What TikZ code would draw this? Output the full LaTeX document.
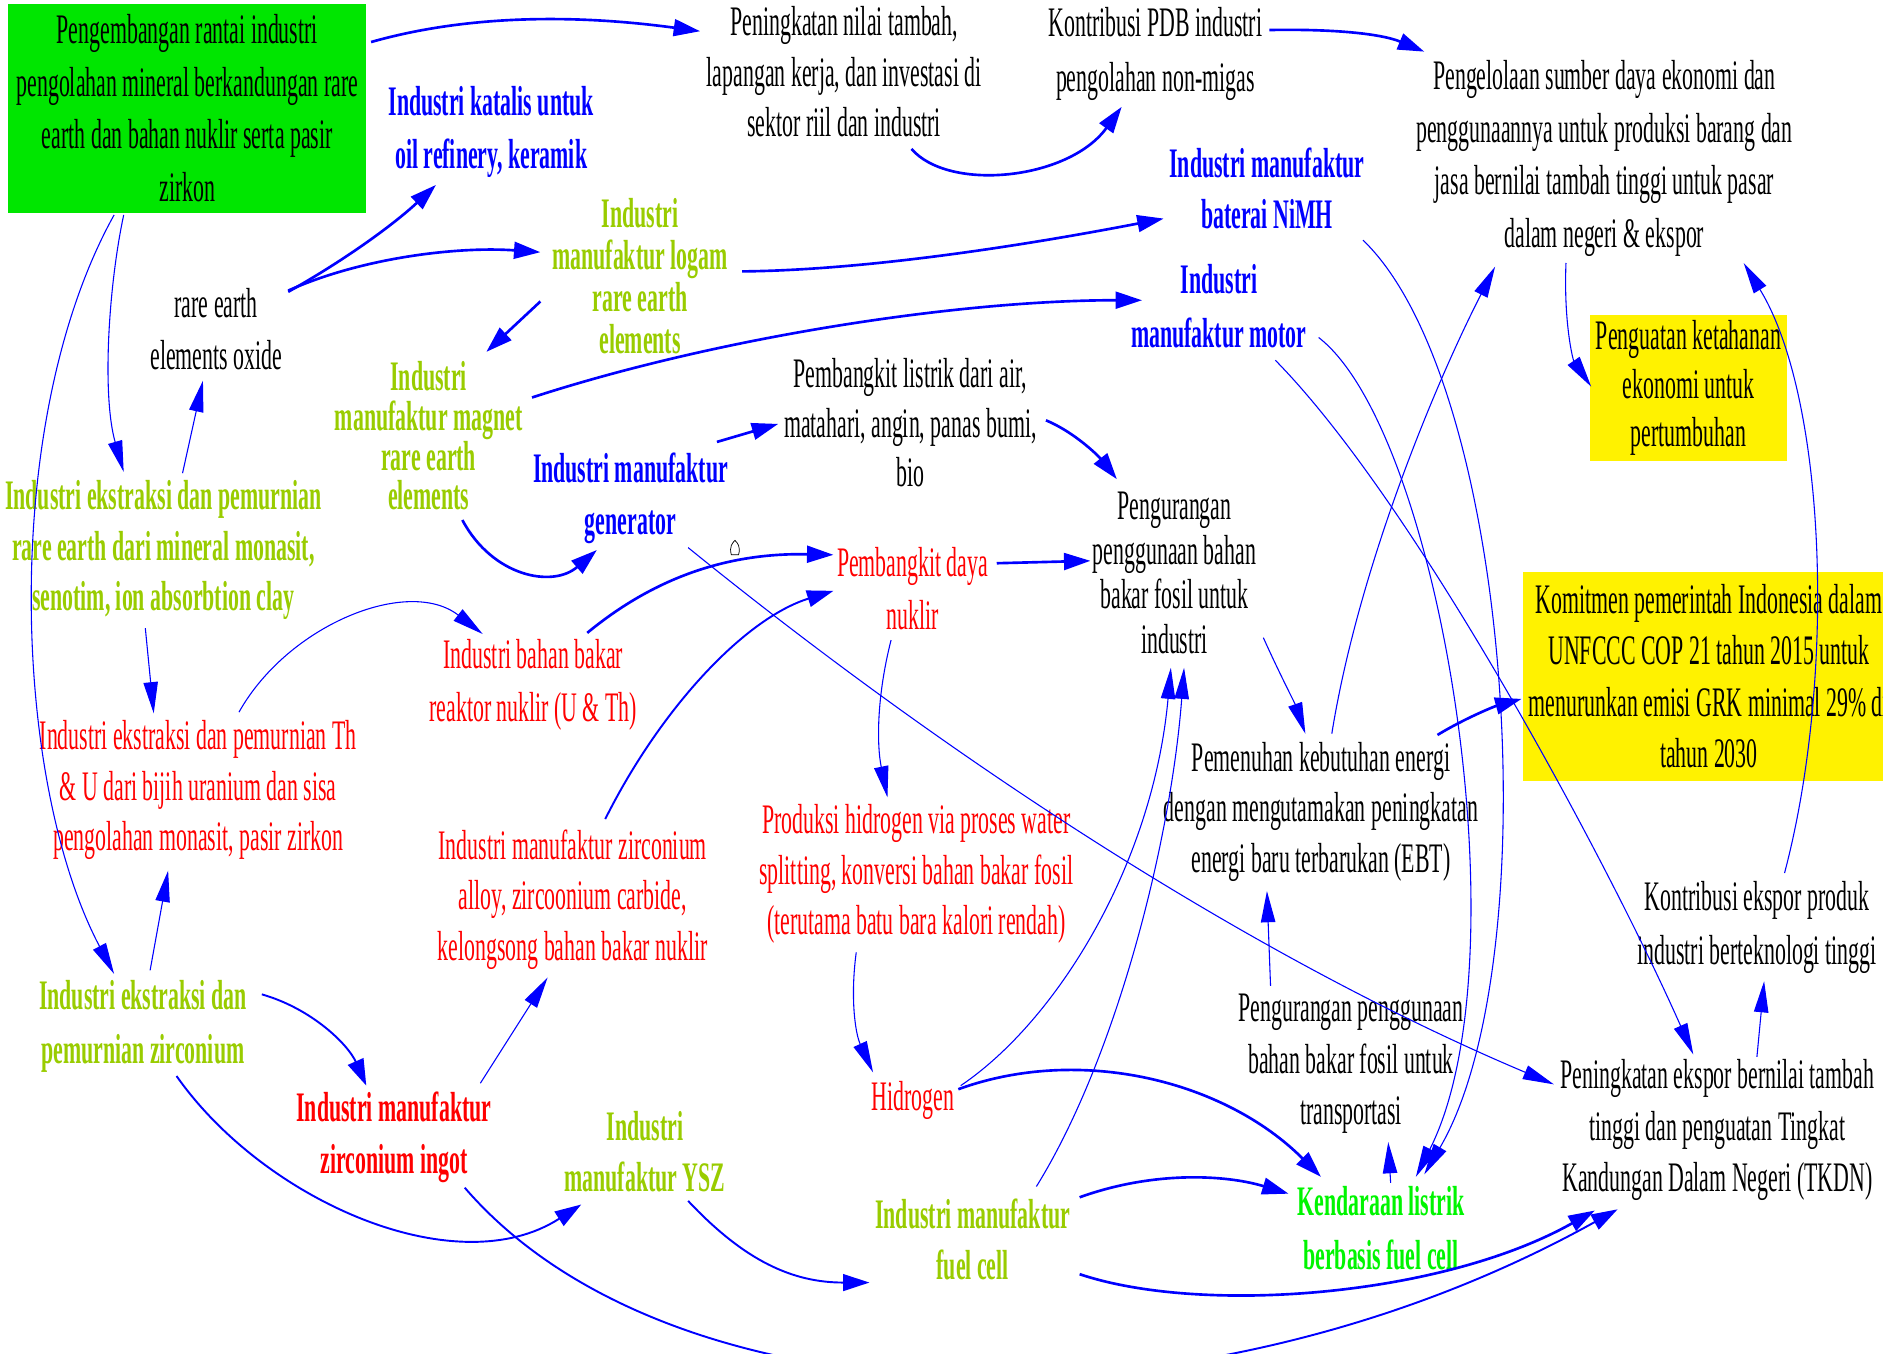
\documentclass[tikz,border=0pt]{standalone}
\usepackage{fontspec}
\setmainfont{Liberation Serif}[FakeStretch=0.52]
\usetikzlibrary{arrows.meta}
\definecolor{olv}{RGB}{153,204,0}
\definecolor{gbox}{RGB}{0,230,0}
\definecolor{kgreen}{RGB}{0,245,0}
\definecolor{ablue}{RGB}{0,0,255}
\newcommand\fsz[1]{\fontsize{35}{#1}\selectfont}
\tikzset{
  bk/.style={align=center,inner sep=0pt,text=black,font=\fsz{#1}}, bk/.default=43,
  bl/.style={align=center,inner sep=0pt,text=ablue,font=\fsz{#1}\bfseries}, bl/.default=44,
  ol/.style={align=center,inner sep=0pt,text=olv,font=\fsz{#1}\bfseries}, ol/.default=44,
  rd/.style={align=center,inner sep=0pt,text=red,font=\fsz{#1}}, rd/.default=43,
  rdb/.style={align=center,inner sep=0pt,text=red,font=\fsz{#1}\bfseries}, rdb/.default=43,
  grb/.style={align=center,inner sep=0pt,text=kgreen,font=\fsz{#1}\bfseries}, grb/.default=45,
  tk/.style={draw=ablue,line width=2.2pt,-{Triangle[length=22pt,width=14pt]}},
  tn/.style={draw=ablue,line width=0.9pt,-{Triangle[length=26pt,width=12pt]}},
}
\begin{document}
\begin{tikzpicture}[x=1pt,y=-1pt]
\useasboundingbox (0,0) rectangle (1568,1127);
\clip (0,0) rectangle (1568,1127);
% boxes
\node[fill=gbox,minimum width=298pt,minimum height=174pt,bk=44] (n1) at (156,90)
  {Pengembangan rantai industri\\pengolahan mineral berkandungan rare\\earth dan bahan nuklir serta pasir\\zirkon};
\node[fill=yellow,minimum width=164pt,minimum height=122pt,bk=40] (n13) at (1406,323)
  {Penguatan ketahanan\\ekonomi untuk\\pertumbuhan};
\node[fill=yellow,minimum width=310pt,minimum height=174pt,bk=43] (n18) at (1423,563)
  {Komitmen pemerintah Indonesia dalam\\UNFCCC COP 21 tahun 2015 untuk\\menurunkan emisi GRK minimal 29\% di\\tahun 2030};
% text nodes
\node[bk=42] (n2) at (703,60) {Peningkatan nilai tambah,\\lapangan kerja, dan investasi di\\sektor riil dan industri};
\node[bk=46] (n3) at (962,45) {Kontribusi PDB industri\\pengolahan non-migas};
\node[bk=44] (n4) at (1336,132) {Pengelolaan sumber daya ekonomi dan\\penggunaannya untuk produksi barang dan\\jasa bernilai tambah tinggi untuk pasar\\dalam negeri \& ekspor};
\node[bl=44] (n5) at (409,110) {Industri katalis untuk\\oil refinery, keramik};
\node[ol=35] (n6) at (533,230) {Industri\\manufaktur logam\\rare earth\\elements};
\node[bk=44] (n7) at (180,274) {rare earth\\elements oxide};
\node[ol=33] (n8) at (357,363) {Industri\\manufaktur magnet\\rare earth\\elements};
\node[bl=43] (n9) at (1055,157) {Industri manufaktur\\baterai NiMH};
\node[bl=45] (n10) at (1015,255) {Industri\\manufaktur motor};
\node[bk=41] (n11) at (758,352) {Pembangkit listrik dari air,\\matahari, angin, panas bumi,\\bio};
\node[bl=44] (n12) at (525,415) {Industri manufaktur\\generator};
\node[ol=42] (n14) at (136,458) {Industri ekstraksi dan pemurnian\\rare earth dari mineral monasit,\\senotim, ion absorbtion clay};
\node[bk=37] (n15) at (978,477) {Pengurangan\\penggunaan bahan\\bakar fosil untuk\\industri};
\node[rd=44] (n16) at (760,490) {Pembangkit daya\\nuklir};
\node[rd=44] (n17) at (444,570) {Industri bahan bakar\\reaktor nuklir (U \& Th)};
\node[rd=42] (n19) at (165,658) {Industri ekstraksi dan pemurnian Th\\\& U dari bijih uranium dan sisa\\pengolahan monasit, pasir zirkon};
\node[bk=42] (n20) at (1100,676) {Pemenuhan kebutuhan energi\\dengan mengutamakan peningkatan\\energi baru terbarukan (EBT)};
\node[rd=42] (n21) at (763,728) {Produksi hidrogen via proses water\\splitting, konversi bahan bakar fosil\\(terutama batu bara kalori rendah)};
\node[rd=42] (n22) at (477,749) {Industri manufaktur zirconium\\alloy, zircoonium carbide,\\kelongsong bahan bakar nuklir};
\node[bk=45] (n23) at (1463,772) {Kontribusi ekspor produk\\industri berteknologi tinggi};
\node[ol=45] (n24) at (119,855) {Industri ekstraksi dan\\pemurnian zirconium};
\node[bk=43] (n25) at (1125,886) {Pengurangan penggunaan\\bahan bakar fosil untuk\\transportasi};
\node[bk=43] (n26) at (1430,941) {Peningkatan ekspor bernilai tambah\\tinggi dan penguatan Tingkat\\Kandungan Dalam Negeri (TKDN)};
\node[rd] (n27) at (760,916) {Hidrogen};
\node[rdb=43] (n28) at (328,947) {Industri manufaktur\\zirconium ingot};
\node[ol=43] (n29) at (537,959) {Industri\\manufaktur YSZ};
\node[ol=42] (n30) at (810,1032) {Industri manufaktur\\fuel cell};
\node[grb=45] (n31) at (1150,1023) {Kendaraan listrik\\berbasis fuel cell};
% thick connectors
\draw[tk] ([shift={(153,-55)}]n1.center) .. controls (390,12) and (480,12) .. ([shift={(-120,-34)}]n2.center);
\draw[tk] ([shift={(56,64)}]n2.center) .. controls (790,160) and (890,150) .. ([shift={(-28,44)}]n3.center);
\draw[tk] ([shift={(95,-20)}]n3.center) .. controls (1110,24) and (1150,28) .. ([shift={(-150,-89)}]n4.center);
\draw[tk] ([shift={(60,-31)}]n7.center) .. controls (290,215) and (330,185) .. ([shift={(-46,44)}]n5.center);
\draw[tk] ([shift={(60,-32)}]n7.center) .. controls (300,215) and (380,205) .. ([shift={(-83,-20)}]n6.center);
\draw[tk] ([shift={(-83,21)}]n6.center) -- ([shift={(48,-70)}]n8.center);
\draw[tk] ([shift={(86,-32)}]n8.center) .. controls (600,280) and (800,250) .. ([shift={(-64,-5)}]n10.center);
\draw[tk] ([shift={(85,-4)}]n6.center) .. controls (720,225) and (850,205) .. ([shift={(-86,25)}]n9.center);
\draw[tk] ([shift={(28,70)}]n8.center) .. controls (410,480) and (460,490) .. ([shift={(-28,43)}]n12.center);
\draw[tk] ([shift={(72,-47)}]n12.center) -- ([shift={(-110,1)}]n11.center);
\draw[tk] ([shift={(113,-2)}]n11.center) .. controls (895,360) and (915,380) .. ([shift={(-48,-78)}]n15.center);
\draw[tk] ([shift={(45,-43)}]n17.center) .. controls (540,485) and (600,460) .. ([shift={(-66,-28)}]n16.center);
\draw[tk,line width=1.6pt] ([shift={(27,-67)}]n22.center) .. controls (550,590) and (620,515) .. ([shift={(-66,2)}]n16.center);
\draw[tk] ([shift={(70,-21)}]n16.center) -- ([shift={(-70,-10)}]n15.center);
\draw[tk,line width=1.6pt] ([shift={(99,-27)}]n24.center) .. controls (260,840) and (290,870) .. ([shift={(-23,-43)}]n28.center);
\draw[tk,line width=1.6pt] ([shift={(28,41)}]n24.center) .. controls (220,1000) and (380,1070) .. ([shift={(-53,44)}]n29.center);
\draw[tk,line width=1.6pt] ([shift={(36,41)}]n29.center) .. controls (620,1050) and (660,1068) .. ([shift={(-86,36)}]n30.center);
\draw[tk] ([shift={(38,-9)}]n27.center) .. controls (900,870) and (1020,900) .. ([shift={(-50,-43)}]n31.center);
\draw[tk] ([shift={(97,-64)}]n20.center) .. controls (1220,598) and (1245,588) .. ([shift={(-156,19)}]n18.center);
\draw[tk] ([shift={(89,-35)}]n30.center) .. controls (960,975) and (1020,978) .. ([shift={(-77,-29)}]n31.center);
\draw[tk] ([shift={(89,29)}]n30.center) .. controls (1000,1095) and (1200,1080) .. ([shift={(-102,67)}]n26.center);
\draw[tk,line width=1.6pt] ([shift={(59,42)}]n28.center) .. controls (560,1190) and (1000,1200) .. ([shift={(-83,66)}]n26.center);
% thin connectors
\draw[tn] ([shift={(-53,89)}]n1.center) .. controls (90,240) and (85,330) .. ([shift={(-33,-65)}]n14.center);
\draw[tn] ([shift={(-61,89)}]n1.center) .. controls (0,350) and (10,650) .. ([shift={(-24,-44)}]n24.center);
\draw[tn] ([shift={(16,-64)}]n14.center) -- ([shift={(-11,43)}]n7.center);
\draw[tn] ([shift={(-18,43)}]n16.center) .. controls (730,580) and (730,620) .. ([shift={(-24,-64)}]n21.center);
\draw[tn] ([shift={(-15,65)}]n14.center) -- ([shift={(-37,-64)}]n19.center);
\draw[tn] ([shift={(34,-65)}]n19.center) .. controls (240,520) and (340,480) .. ([shift={(-42,-42)}]n17.center);
\draw[tn] ([shift={(6,-47)}]n24.center) -- ([shift={(-25,67)}]n19.center);
\draw[tn] ([shift={(72,-45)}]n28.center) -- ([shift={(-21,65)}]n22.center);
\draw[tn] ([shift={(-50,65)}]n21.center) .. controls (708,830) and (712,860) .. ([shift={(-33,-23)}]n27.center);
\draw[tn] ([shift={(74,54)}]n15.center) .. controls (1065,560) and (1078,585) .. ([shift={(-13,-65)}]n20.center);
\draw[tn] ([shift={(53,-44)}]n30.center) .. controls (930,880) and (975,700) .. ([shift={(8,79)}]n15.center);
\draw[tn] ([shift={(40,-12)}]n27.center) .. controls (880,850) and (960,720) .. ([shift={(-3,79)}]n15.center);
\draw[tn] ([shift={(9,-65)}]n20.center) .. controls (1130,480) and (1190,330) .. ([shift={(-91,90)}]n4.center);
\draw[tn] ([shift={(-67,-65)}]n25.center) -- ([shift={(-45,66)}]n20.center);
\draw[tn] ([shift={(8,-38)}]n31.center) -- ([shift={(6,-72)}]n31.center);
\draw[tn] ([shift={(80,43)}]n9.center) .. controls (1260,320) and (1290,800) .. ([shift={(36,-45)}]n31.center);
\draw[tn] ([shift={(83,26)}]n10.center) .. controls (1200,360) and (1270,800) .. ([shift={(29,-43)}]n31.center);
\draw[tn] ([shift={(47,45)}]n10.center) .. controls (1180,420) and (1340,720) .. ([shift={(-20,-63)}]n26.center);
\draw[tn] ([shift={(48,41)}]n12.center) .. controls (800,640) and (1050,800) .. ([shift={(-136,-38)}]n26.center);
\draw[tn] ([shift={(23,-45)}]n23.center) .. controls (1530,560) and (1520,330) .. ([shift={(116,87)}]n4.center);
\draw[tn] ([shift={(33,-61)}]n26.center) -- ([shift={(6,45)}]n23.center);
\draw[tn] ([shift={(-32,87)}]n4.center) .. controls (1302,270) and (1310,300) .. ([shift={(-81,-1)}]n13.center);
% small mark
\draw[line width=0.6pt,fill=white] (609,462) .. controls (607,455) and (610,452) .. (612,450) .. controls (614,452) and (617,455) .. (615,462) -- cycle;
\end{tikzpicture}
\end{document}
